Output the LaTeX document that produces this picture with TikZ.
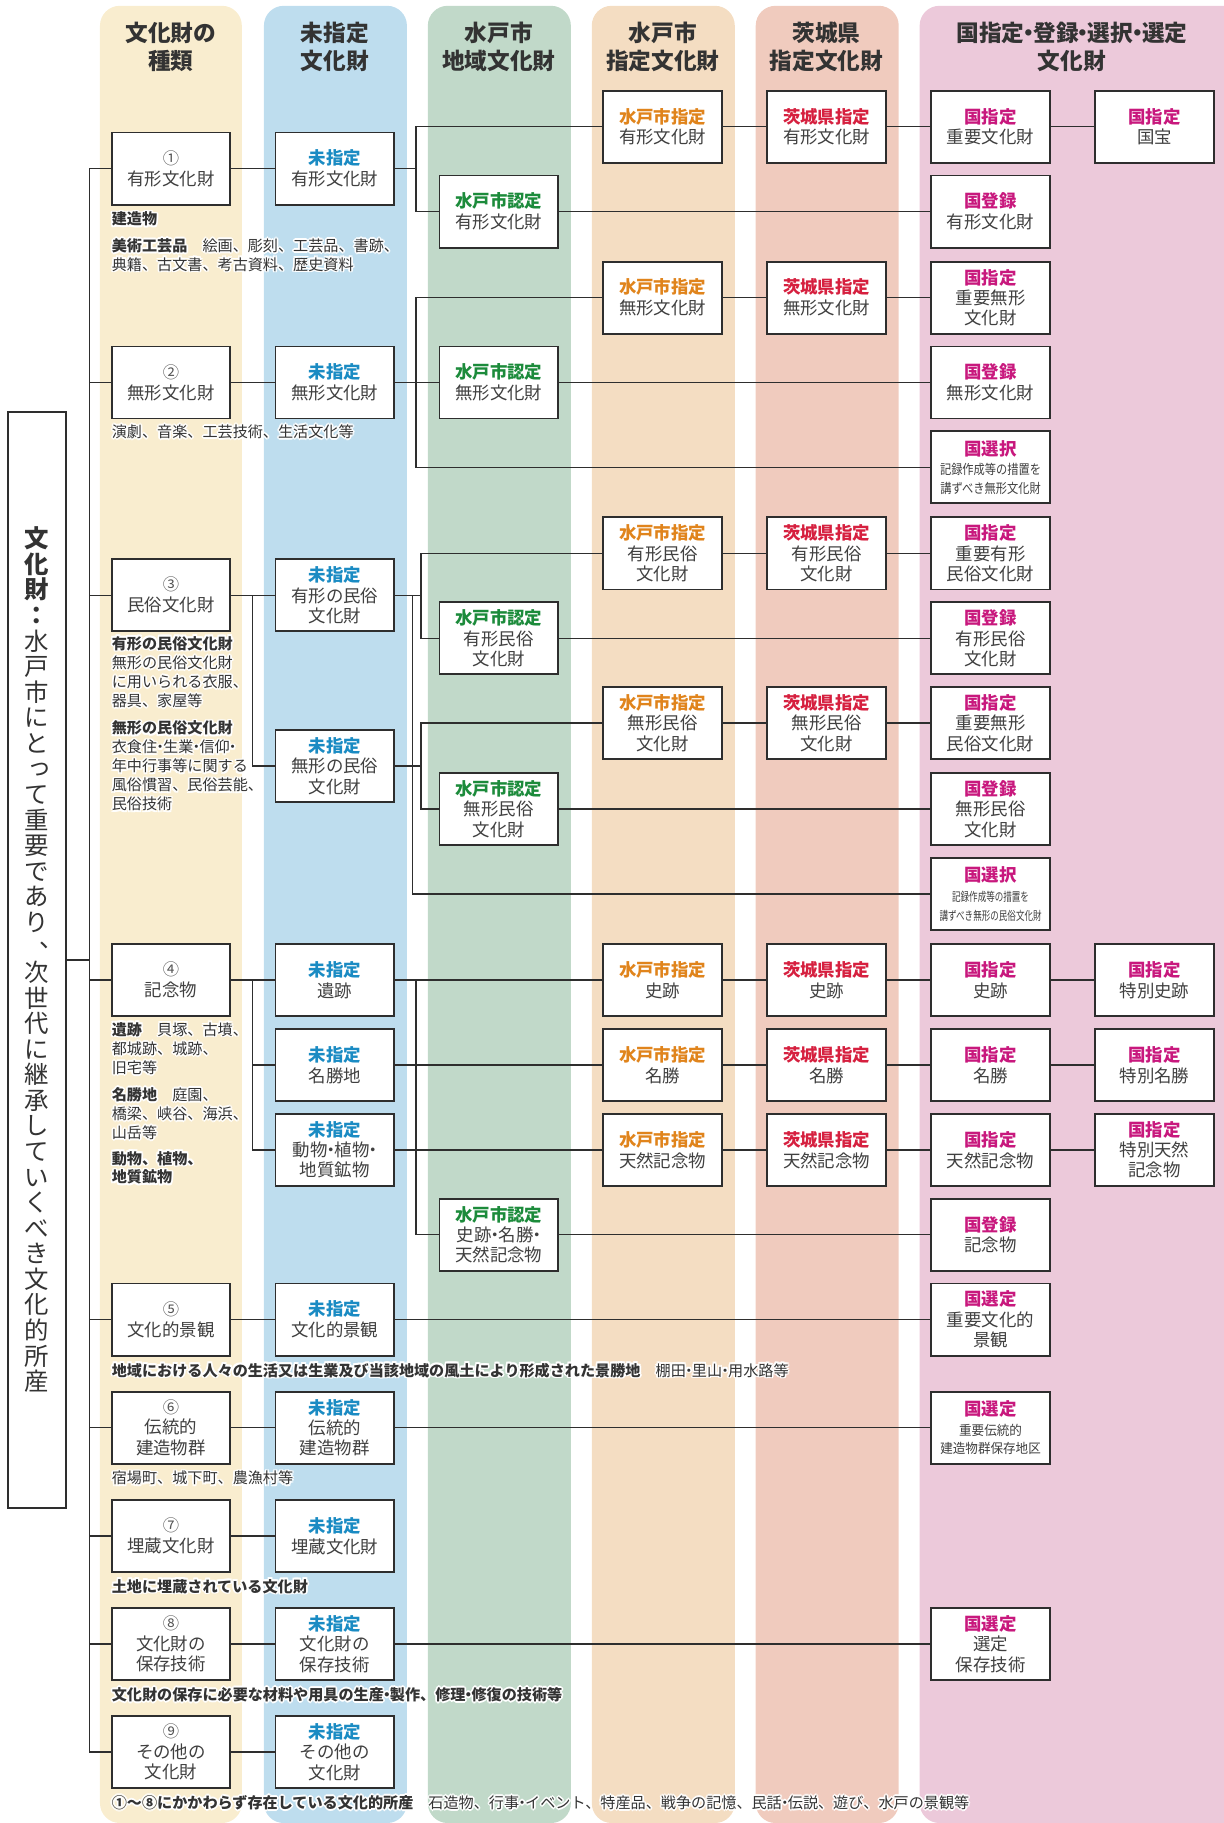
\documentclass[tikz,border=0pt]{standalone}
\usepackage{fontspec}
\setmainfont{Noto Sans CJK JP}
\usetikzlibrary{calc}

% column band colours
\definecolor{bandY}{HTML}{F9EDCF}
\definecolor{bandB}{HTML}{BEDDEE}
\definecolor{bandG}{HTML}{C1D9C9}
\definecolor{bandO}{HTML}{F4DDC2}
\definecolor{bandR}{HTML}{F0CBBE}
\definecolor{bandP}{HTML}{ECC9DA}
% label colours
\definecolor{cUnd}{HTML}{1A8BC3}
\definecolor{cMitoN}{HTML}{1C8B3B}
\definecolor{cMitoD}{HTML}{E0841C}
\definecolor{cPref}{HTML}{D6203F}
\definecolor{cNat}{HTML}{C8187D}
\definecolor{ink}{HTML}{404040}
\definecolor{headC}{HTML}{333333}
\definecolor{numC}{HTML}{555555}
\definecolor{lineC}{HTML}{2E2E2E}

\newcommand{\nd}{\kern-0.3em・\kern-0.3em}
\newcommand{\tagU}{{\bfseries\color{cUnd}未指定}}
\newcommand{\tagMN}{{\bfseries\color{cMitoN}水戸市認定}}
\newcommand{\tagMD}{{\bfseries\color{cMitoD}水戸市指定}}
\newcommand{\tagP}{{\bfseries\color{cPref}茨城県指定}}
\newcommand{\tagN}[1]{{\bfseries\color{cNat}#1}}
\newcommand{\cnum}[1]{{\fontsize{14}{18}\selectfont\color{numC}#1}}
\newcommand{\narrowline}[3]{\scalebox{#1}[1]{\fontsize{#2}{14}\selectfont #3}}
% vertical-writing forms for the left title
\newcommand{\vcomma}{\makebox[1em][l]{\hspace{0.6em}\raisebox{0.28em}[0.5em][0pt]{、}}}
\newcommand{\vtsu}{\makebox[1em][l]{\hspace{0.12em}\raisebox{0.12em}{っ}}}
% a note set on a white halo so it stays legible across the bands
\newcommand{\halonote}[4][]{%
  \foreach \hx/\hy [count=\hi] in {1.5/0,-1.5/0,0/1.5,0/-1.5,1.1/1.1,1.1/-1.1,-1.1/1.1,-1.1/-1.1}
    \node[note,#1,text=white] (#2-halo\hi) at ($(#3)+(\hx,\hy)$) {#4};
  \node[note,#1] (#2) at (#3) {#4};
}

\begin{document}
\begin{tikzpicture}[x=1pt,y=-1pt,
  cbox/.style={draw=lineC, line width=1.6pt, fill=white, minimum width=102pt,
    minimum height=62pt, inner sep=0pt, align=center, text=ink,
    font=\fontsize{15}{18}\selectfont},
  cbox3/.style={cbox, font=\fontsize{15}{17.5}\selectfont},
  wire/.style={draw=lineC, line width=1.3pt},
  hd/.style={align=center, inner sep=0pt, text=headC,
    font=\bfseries\fontsize{19.5}{24}\selectfont},
  note/.style={anchor=north west, align=left, inner sep=0pt, text=headC,
    font=\fontsize{13}{16.5}\selectfont},
]
\useasboundingbox (0,0) rectangle (1052,1568);

% ---------- column bands ----------
\fill[bandY, rounded corners=17pt] (86,5) rectangle (208,1568);
\fill[bandB, rounded corners=17pt] (227,5) rectangle (350,1568);
\fill[bandG, rounded corners=17pt] (368,5) rectangle (491,1568);
\fill[bandO, rounded corners=17pt] (509,5) rectangle (632,1568);
\fill[bandR, rounded corners=17pt] (650,5) rectangle (773,1568);
\fill[bandP, rounded corners=17pt] (791,5) rectangle (1075,1568);

% ---------- column headings ----------
\node[hd] (h1) at (147,40) {文化財の\\種類};
\node[hd] (h2) at (288,40) {未指定\\文化財};
\node[hd] (h3) at (429,40) {水戸市\\地域文化財};
\node[hd] (h4) at (570,40) {水戸市\\指定文化財};
\node[hd] (h5) at (711,40) {茨城県\\指定文化財};
\node[hd] (h6) at (922,40) {国指定\nd 登録\nd 選択\nd 選定\\文化財};

% ---------- left title ----------
\node[draw=lineC, line width=1.6pt, minimum width=50pt, minimum height=943pt,
  inner sep=0pt, align=center, text=headC, font=\fontsize{21}{22}\selectfont]
  (vt) at (32,825.5)
  {\textbf{文}\\\textbf{化}\\\textbf{財}\\\textbf{：}\\水\\戸\\市\\に\\と\\\vtsu\\て\\重\\要\\で\\あ\\り\\[-2pt]\vcomma\\[1pt]次\\世\\代\\に\\継\\承\\し\\て\\い\\く\\べ\\き\\文\\化\\的\\所\\産};

% ---------- (1) tangible ----------
\node[cbox] (t1) at (147,145) {\cnum{①}\\有形文化財};
\node[cbox] (u1) at (288,145) {\tagU\\有形文化財};
\node[cbox] (m1) at (429,182) {\tagMN\\有形文化財};
\node[cbox] (s1) at (570,109) {\tagMD\\有形文化財};
\node[cbox] (p1) at (711,109) {\tagP\\有形文化財};
\node[cbox] (n1) at (852,109) {\tagN{国指定}\\重要文化財};
\node[cbox] (k1) at (993,109) {\tagN{国指定}\\国宝};
\node[cbox] (r1) at (852,182) {\tagN{国登録}\\有形文化財};

% ---------- (2) intangible ----------
\node[cbox] (t2) at (147,329) {\cnum{②}\\無形文化財};
\node[cbox] (u2) at (288,329) {\tagU\\無形文化財};
\node[cbox] (m2) at (429,329) {\tagMN\\無形文化財};
\node[cbox] (s2) at (570,256) {\tagMD\\無形文化財};
\node[cbox] (p2) at (711,256) {\tagP\\無形文化財};
\node[cbox3] (n2) at (852,256) {\tagN{国指定}\\重要無形\\文化財};
\node[cbox] (r2) at (852,329) {\tagN{国登録}\\無形文化財};
\node[cbox, font=\fontsize{15}{17}\selectfont] (e2) at (852,402)
  {\tagN{国選択}\\\narrowline{0.84}{11.5}{記録作成等の措置を}\\[-1pt]\narrowline{0.84}{11.5}{講ずべき無形文化財}};

% ---------- (3) folk ----------
\node[cbox] (t3) at (147,512) {\cnum{③}\\民俗文化財};
\node[cbox3] (u3a) at (288,512) {\tagU\\有形の民俗\\文化財};
\node[cbox3] (u3b) at (288,659) {\tagU\\無形の民俗\\文化財};
\node[cbox3] (m3a) at (429,549) {\tagMN\\有形民俗\\文化財};
\node[cbox3] (m3b) at (429,696) {\tagMN\\無形民俗\\文化財};
\node[cbox3] (s3a) at (570,476) {\tagMD\\有形民俗\\文化財};
\node[cbox3] (s3b) at (570,622) {\tagMD\\無形民俗\\文化財};
\node[cbox3] (p3a) at (711,476) {\tagP\\有形民俗\\文化財};
\node[cbox3] (p3b) at (711,622) {\tagP\\無形民俗\\文化財};
\node[cbox3] (n3a) at (852,476) {\tagN{国指定}\\重要有形\\民俗文化財};
\node[cbox3] (n3b) at (852,622) {\tagN{国指定}\\重要無形\\民俗文化財};
\node[cbox3] (r3a) at (852,549) {\tagN{国登録}\\有形民俗\\文化財};
\node[cbox3] (r3b) at (852,696) {\tagN{国登録}\\無形民俗\\文化財};
\node[cbox, font=\fontsize{15}{17}\selectfont] (e3) at (852,769)
  {\tagN{国選択}\\\narrowline{0.7}{10.5}{記録作成等の措置を}\\[-1pt]\narrowline{0.7}{10.5}{講ずべき無形の民俗文化財}};

% ---------- (4) monuments ----------
\node[cbox] (t4) at (147,843) {\cnum{④}\\記念物};
\node[cbox] (u4a) at (288,843) {\tagU\\遺跡};
\node[cbox] (u4b) at (288,916) {\tagU\\名勝地};
\node[cbox3] (u4c) at (288,989) {\tagU\\動物\nd 植物\nd\\地質鉱物};
\node[cbox3] (m4) at (429,1062) {\tagMN\\史跡\nd 名勝\nd\\天然記念物};
\node[cbox] (s4a) at (570,843) {\tagMD\\史跡};
\node[cbox] (s4b) at (570,916) {\tagMD\\名勝};
\node[cbox] (s4c) at (570,989) {\tagMD\\天然記念物};
\node[cbox] (p4a) at (711,843) {\tagP\\史跡};
\node[cbox] (p4b) at (711,916) {\tagP\\名勝};
\node[cbox] (p4c) at (711,989) {\tagP\\天然記念物};
\node[cbox] (n4a) at (852,843) {\tagN{国指定}\\史跡};
\node[cbox] (n4b) at (852,916) {\tagN{国指定}\\名勝};
\node[cbox] (n4c) at (852,989) {\tagN{国指定}\\天然記念物};
\node[cbox] (k4a) at (993,843) {\tagN{国指定}\\特別史跡};
\node[cbox] (k4b) at (993,916) {\tagN{国指定}\\特別名勝};
\node[cbox3] (k4c) at (993,989) {\tagN{国指定}\\特別天然\\記念物};
\node[cbox] (r4) at (852,1062) {\tagN{国登録}\\記念物};

% ---------- (5)-(9) ----------
\node[cbox] (t5) at (147,1135) {\cnum{⑤}\\文化的景観};
\node[cbox] (u5) at (288,1135) {\tagU\\文化的景観};
\node[cbox3] (g5) at (852,1135) {\tagN{国選定}\\重要文化的\\景観};
\node[cbox3] (t6) at (147,1228) {\cnum{⑥}\\伝統的\\建造物群};
\node[cbox3] (u6) at (288,1228) {\tagU\\伝統的\\建造物群};
\node[cbox, font=\fontsize{15}{17}\selectfont] (g6) at (852,1228)
  {\tagN{国選定}\\\narrowline{0.94}{11.5}{重要伝統的}\\[-1pt]\narrowline{0.94}{11.5}{建造物群保存地区}};
\node[cbox] (t7) at (147,1321) {\cnum{⑦}\\埋蔵文化財};
\node[cbox] (u7) at (288,1321) {\tagU\\埋蔵文化財};
\node[cbox3] (t8) at (147,1414) {\cnum{⑧}\\文化財の\\保存技術};
\node[cbox3] (u8) at (288,1414) {\tagU\\文化財の\\保存技術};
\node[cbox3] (g8) at (852,1414) {\tagN{国選定}\\選定\\保存技術};
\node[cbox3] (t9) at (147,1507) {\cnum{⑨}\\その他の\\文化財};
\node[cbox3] (u9) at (288,1507) {\tagU\\その他の\\文化財};

% ---------- notes under the categories ----------
\halonote{d1a}{96,182}{\textbf{建造物}}
\halonote[font=\fontsize{13}{16}\selectfont]{d1b}{96,205}
  {\textbf{美術工芸品}\hspace{1em}絵画、彫刻、工芸品、書跡、\\典籍、古文書、考古資料、歴史資料}
\halonote{d2}{96,365}{演劇、音楽、工芸技術、生活文化等}
\halonote{d3a}{96,547}
  {\textbf{有形の民俗文化財}\\無形の民俗文化財\\に用いられる衣服、\\器具、家屋等}
\halonote[font=\fontsize{13}{16.3}\selectfont]{d3b}{96,620}
  {\textbf{無形の民俗文化財}\\衣食住\nd 生業\nd 信仰\nd\\年中行事等に関する\\風俗慣習、民俗芸能、\\民俗技術}
\halonote{d4a}{96,879}{\textbf{遺跡}\hspace{1em}貝塚、古墳、\\都城跡、城跡、\\旧宅等}
\halonote{d4b}{96,935}{\textbf{名勝地}\hspace{1em}庭園、\\橋梁、峡谷、海浜、\\山岳等}
\halonote[font=\bfseries\fontsize{13}{16}\selectfont]{d4c}{96,990}{動物、植物、\\地質鉱物}
\halonote{d5}{96,1172}
  {\textbf{地域における人々の生活又は生業及び当該地域の風土により形成された景勝地}\hspace{1em}棚田\nd 里山\nd 用水路等}
\halonote{d6}{96,1265}{宿場町、城下町、農漁村等}
\halonote{d7}{96,1358}{\textbf{土地に埋蔵されている文化財}}
\halonote{d8}{96,1451}
  {\textbf{文化財の保存に必要な材料や用具の生産\nd 製作、修理\nd 修復の技術等}}
\halonote{d9}{96,1544}
  {\textbf{①～⑧にかかわらず存在している文化的所産}\hspace{1em}石造物、行事\nd イベント、特産品、戦争の記憶、民話\nd 伝説、遊び、水戸の景観等}

% ---------- junction points ----------
\coordinate (trunk) at (77,1507);
\coordinate (q1) at (358,145);
\coordinate (q2) at (358,329);
\coordinate (k3) at (217,512);
\coordinate (q3a) at (362,512);
\coordinate (q3b) at (362,659);
\coordinate (q3c) at (355,512);
\coordinate (k4) at (217,843);
\coordinate (q4) at (358,843);

% ---------- connectors ----------
\begin{scope}[wire]
  % trunk and category branches
  \draw (t1.west) -| (trunk) -- (t9.west);
  \foreach \n in {2,...,8} \draw (t\n.west) -- (t\n.west -| trunk);
  \draw (vt.east) -- (vt.east -| trunk);

  % (1)
  \draw (t1) -- (u1) -- (q1);
  \draw (s1.west) -| (q1) |- (m1.west);
  \draw (s1) -- (p1) -- (n1) -- (k1);
  \draw (m1) -- (r1);

  % (2)
  \draw (t2) -- (u2) -- (m2) -- (r2);
  \draw (s2.west) -| (q2) |- (e2.west);
  \draw (s2) -- (p2) -- (n2);

  % (3)
  \draw (t3) -- (u3a);
  \draw (k3) |- (u3b.west);
  \draw (u3a) -- (q3a);
  \draw (s3a.west) -| (q3a) |- (m3a.west);
  \draw (u3b) -- (q3b);
  \draw (s3b.west) -| (q3b) |- (m3b.west);
  \draw (q3c) |- (e3.west);
  \draw (s3a) -- (p3a) -- (n3a);
  \draw (s3b) -- (p3b) -- (n3b);
  \draw (m3a) -- (r3a);
  \draw (m3b) -- (r3b);

  % (4)
  \draw (t4) -- (u4a);
  \draw (k4) |- (u4b.west);
  \draw (k4) |- (u4c.west);
  \draw (u4a) -- (s4a) -- (p4a) -- (n4a) -- (k4a);
  \draw (u4b) -- (s4b) -- (p4b) -- (n4b) -- (k4b);
  \draw (u4c) -- (s4c) -- (p4c) -- (n4c) -- (k4c);
  \draw (q4) |- (m4.west);
  \draw (m4) -- (r4);

  % (5)-(9)
  \draw (t5) -- (u5) -- (g5);
  \draw (t6) -- (u6) -- (g6);
  \draw (t7) -- (u7);
  \draw (t8) -- (u8) -- (g8);
  \draw (t9) -- (u9);
\end{scope}
\end{tikzpicture}
\end{document}
